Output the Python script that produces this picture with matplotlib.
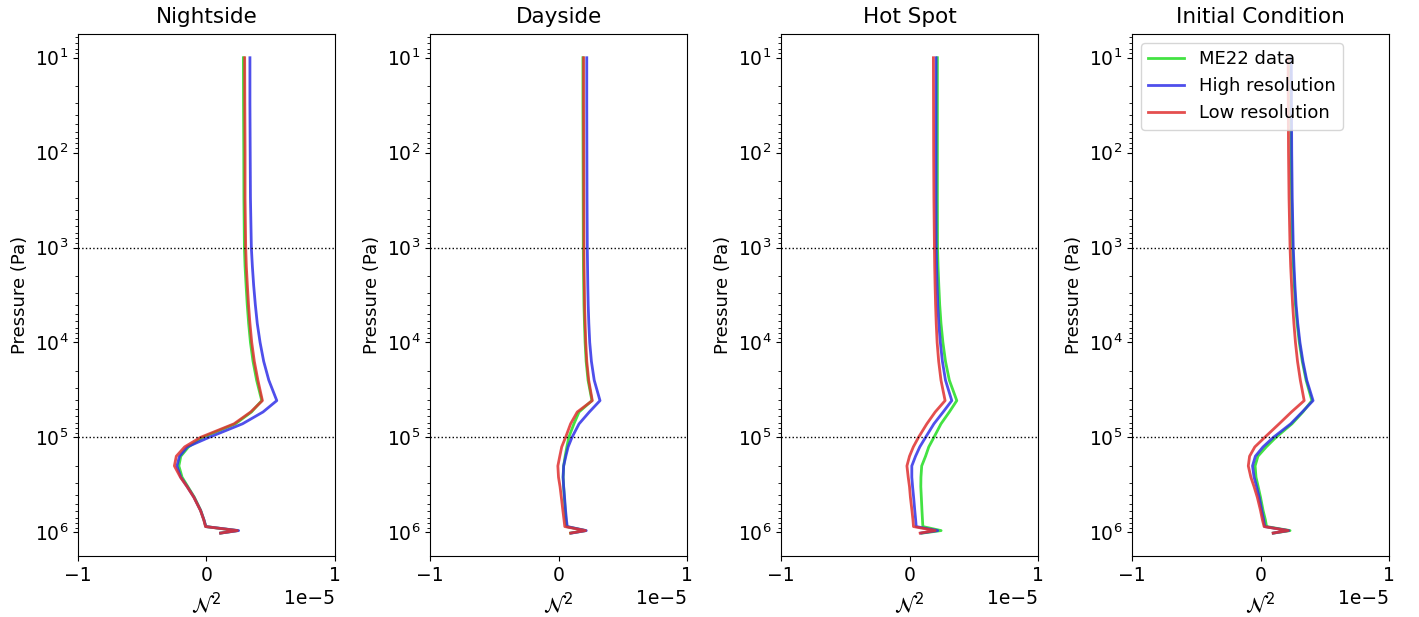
import matplotlib
matplotlib.use("Agg")
import matplotlib.pyplot as plt

# Pressure grid (Pa)
pressure = [10, 30, 100, 300, 1000, 1580, 2500, 4000, 6300, 10000, 15800, 25000,
            41000, 54000, 72000, 100000, 126000, 158000, 200000, 263000,
            331000, 427000, 589000, 741000, 871000, 960000, 1020000]

panel_titles = ["Nightside", "Dayside", "Hot Spot", "Initial Condition"]
series_labels = ["ME22 data", "High resolution", "Low resolution"]

# N^2 values in units of 1e-5
night_me22 = [0.287, 0.288, 0.29, 0.291, 0.295, 0.30, 0.308, 0.317, 0.328, 0.342, 0.362, 0.39,
              0.43, 0.35, 0.225, -0.03, -0.14, -0.20, -0.215, -0.19, -0.145,
              -0.095, -0.045, -0.02, -0.005, 0.24, 0.11]
night_high = [0.338, 0.338, 0.34, 0.342, 0.349, 0.357, 0.367, 0.38, 0.395, 0.417, 0.445, 0.485,
              0.547, 0.44, 0.28, 0.02, -0.15, -0.21, -0.23, -0.20, -0.15,
              -0.098, -0.046, -0.02, -0.005, 0.25, 0.11]
night_low = [0.297, 0.298, 0.30, 0.30, 0.305, 0.31, 0.318, 0.327, 0.338, 0.352, 0.372, 0.40,
             0.435, 0.344, 0.214, -0.047, -0.17, -0.235, -0.25, -0.203, -0.151,
             -0.099, -0.047, -0.021, -0.008, 0.24, 0.11]

day_me22 = [0.19, 0.19, 0.191, 0.192, 0.193, 0.194, 0.196, 0.198, 0.202, 0.207, 0.215, 0.23,
            0.26, 0.16, 0.12, 0.08, 0.065, 0.052, 0.04, 0.036, 0.04,
            0.045, 0.052, 0.058, 0.064, 0.21, 0.094]
day_high = [0.22, 0.22, 0.221, 0.222, 0.224, 0.226, 0.228, 0.231, 0.236, 0.243, 0.256, 0.278,
            0.323, 0.24, 0.16, 0.105, 0.075, 0.057, 0.04, 0.036, 0.04,
            0.047, 0.055, 0.062, 0.068, 0.216, 0.10]
day_low = [0.195, 0.195, 0.196, 0.197, 0.198, 0.199, 0.201, 0.203, 0.207, 0.212, 0.22, 0.235,
           0.263, 0.146, 0.094, 0.055, 0.025, 0.01, -0.005, 0.0, 0.012,
           0.022, 0.034, 0.043, 0.049, 0.21, 0.094]

hot_me22 = [0.217, 0.217, 0.217, 0.217, 0.218, 0.222, 0.228, 0.235, 0.245, 0.26, 0.28, 0.31,
            0.368, 0.31, 0.245, 0.19, 0.15, 0.125, 0.095, 0.089, 0.088,
            0.092, 0.097, 0.101, 0.104, 0.246, 0.10]
hot_high = [0.207, 0.207, 0.207, 0.207, 0.208, 0.211, 0.215, 0.22, 0.228, 0.24, 0.256, 0.28,
            0.329, 0.262, 0.19, 0.125, 0.08, 0.047, 0.018, 0.018, 0.024,
            0.032, 0.041, 0.048, 0.052, 0.22, 0.09]
hot_low = [0.186, 0.187, 0.188, 0.19, 0.194, 0.196, 0.199, 0.203, 0.208, 0.215, 0.227, 0.245,
           0.277, 0.20, 0.135, 0.07, 0.03, 0.0, -0.02, -0.01, 0.0,
           0.007, 0.019, 0.027, 0.031, 0.20, 0.083]

init_me22 = [0.235, 0.236, 0.238, 0.242, 0.25, 0.256, 0.263, 0.272, 0.285, 0.302, 0.325, 0.355,
             0.40, 0.33, 0.245, 0.12, 0.045, -0.02, -0.042, -0.035, -0.018,
             0.0, 0.02, 0.038, 0.047, 0.23, 0.10]
init_high = [0.24, 0.241, 0.243, 0.247, 0.255, 0.261, 0.268, 0.277, 0.29, 0.307, 0.33, 0.36,
             0.409, 0.325, 0.235, 0.10, 0.02, -0.04, -0.062, -0.05, -0.03,
             -0.01, 0.01, 0.025, 0.033, 0.22, 0.10]
init_low = [0.215, 0.216, 0.218, 0.222, 0.23, 0.235, 0.242, 0.25, 0.26, 0.272, 0.288, 0.31,
            0.34, 0.241, 0.145, 0.033, -0.044, -0.085, -0.095, -0.075, -0.05,
            -0.025, 0.0, 0.015, 0.028, 0.215, 0.098]

panels = [
    (night_me22, night_high, night_low),
    (day_me22, day_high, day_low),
    (hot_me22, hot_high, hot_low),
    (init_me22, init_high, init_low),
]

SCALE = 1e-5
colors = ["#22dd22", "#3030e8", "#e03030"]

fig = plt.figure(figsize=(14.19, 6.17), dpi=100)
W, H = 1419.0, 617.0
lefts = [78, 430, 781, 1132]
for i, (title, series) in enumerate(zip(panel_titles, panels)):
    ax = fig.add_axes([lefts[i] / W, 1 - 556 / H, 257 / W, 522 / H])
    for vals, c, lab in zip(series, colors, series_labels):
        ax.plot([v * SCALE for v in vals], pressure, color=c, lw=2.0,
                alpha=0.85, label=lab)
    ax.axhline(1e3, color="black", ls=":", lw=1.0)
    ax.axhline(1e5, color="black", ls=":", lw=1.0)
    ax.set_yscale("log")
    ax.set_ylim(10 ** 6.25, 10 ** 0.75)
    ax.set_xlim(-1e-5, 1e-5)
    ax.set_xticks([-1e-5, 0, 1e-5])
    ax.tick_params(labelsize=13.5)
    ax.xaxis.get_offset_text().set_fontsize(13.5)
    ax.set_title(title, fontsize=15.5, pad=8)
    ax.set_ylabel("Pressure (Pa)", fontsize=13)
    ax.set_xlabel(r"$\mathcal{N}^2$", fontsize=15)
    if i == 3:
        ax.legend(loc="upper left", fontsize=13, handlelength=2.0)

fig.savefig("out.png", dpi=100)
